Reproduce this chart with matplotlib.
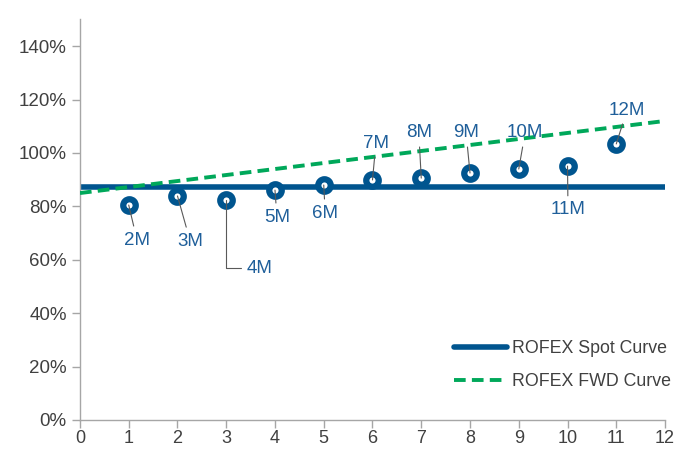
import matplotlib.pyplot as plt
from matplotlib.ticker import PercentFormatter

plt.rcParams['font.family'] = ['Liberation Sans', 'DejaVu Sans']

# data
months = [1, 2, 3, 4, 5, 6, 7, 8, 9, 10, 11]
labels = ["2M", "3M", "4M", "5M", "6M", "7M", "8M", "9M", "10M", "11M", "12M"]
rofex = [0.805, 0.839, 0.824, 0.861, 0.880, 0.899, 0.906, 0.925, 0.940, 0.951, 1.034]
spot_x = [0, 12]
spot_y = [0.873, 0.873]
fwd_x = [0, 12]
fwd_y = [0.85, 1.12]
# label text positions (data coords)
label_x = [1.17, 2.26, 3.69, 4.04, 5.03, 6.07, 6.95, 7.92, 9.13, 10.01, 11.22]
label_y = [0.674, 0.670, 0.569, 0.760, 0.775, 1.037, 1.075, 1.075, 1.075, 0.787, 1.161]

BLUE = "#00558F"
GREEN = "#00A85A"
GRAY = "#A6A6A6"
TXT = "#404040"

fig = plt.figure(figsize=(6.9, 4.49), dpi=100)
ax = fig.add_axes([0.1159, 0.0646, 0.8479, 0.892])

ax.plot(spot_x, spot_y, color=BLUE, lw=4, solid_capstyle="round", label="ROFEX Spot Curve", zorder=2)
ax.plot(fwd_x, fwd_y, color=GREEN, lw=2.8, ls=(0, (3, 1.6)), label="ROFEX FWD Curve", zorder=3)
ax.plot(months, rofex, ls="none", marker="o", markersize=9, markeredgewidth=4.5,
        markeredgecolor=BLUE, markerfacecolor="white", zorder=4)

for i, lab in enumerate(labels):
    style = "angle,angleA=0,angleB=90,rad=0" if lab == "4M" else "arc3"
    ax.annotate(lab, xy=(months[i], rofex[i]), xytext=(label_x[i], label_y[i]),
                ha="center", va="center", fontsize=13.5, color="#1F5F9A",
                arrowprops=dict(arrowstyle="-", color="#595959", lw=0.8,
                                shrinkA=2, shrinkB=0, connectionstyle=style),
                zorder=5)

ax.set_xlim(0, 12)
ax.set_ylim(0, 1.5)
ax.set_xticks(range(13))
ax.set_yticks([0, 0.2, 0.4, 0.6, 0.8, 1.0, 1.2, 1.4])
ax.yaxis.set_major_formatter(PercentFormatter(1.0, decimals=0))

for s in ["top", "right"]:
    ax.spines[s].set_visible(False)
for s in ["left", "bottom"]:
    ax.spines[s].set_color(GRAY)
    ax.spines[s].set_linewidth(1)
ax.tick_params(axis="both", colors=GRAY, labelcolor=TXT, labelsize=13.5, length=6, width=1)
ax.tick_params(axis="x", pad=1, labelsize=13)

ax.legend(loc="lower right", bbox_to_anchor=(1.038, 0.035), frameon=False, fontsize=12.8,
          handlelength=3.0, handletextpad=0.3, labelspacing=0.9, labelcolor=TXT)

fig.savefig("out.png", dpi=100)
